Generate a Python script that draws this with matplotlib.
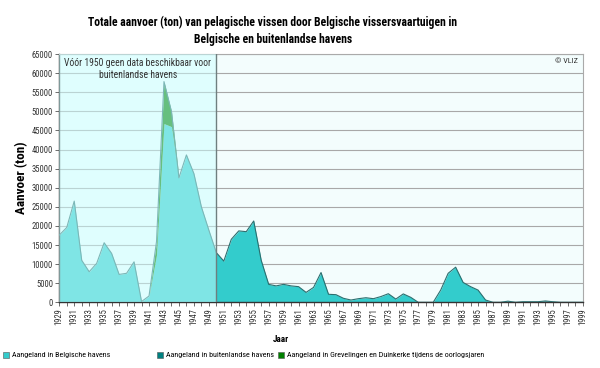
import matplotlib
matplotlib.use("Agg")
import matplotlib.pyplot as plt
from matplotlib.patches import Rectangle
from matplotlib import font_manager
import numpy as np

years = list(range(1929, 2000))
belgian = [17600, 19600, 26500, 11000, 8000, 10200, 15600, 12800, 7300, 7600,
           10600, 200, 1650, 12400, 46800, 46000, 32600, 38600, 33700, 25000,
           18900, 13000, 10800, 16500, 18700, 18500, 21300, 11000, 4700, 4300,
           4700, 4300, 4100, 2600, 3900, 7800, 2100, 2000, 1050, 600,
           950, 1200, 950, 1500, 2250, 850, 2200, 1300, 0, 0,
           0, 3200, 7600, 9200, 5200, 4100, 3200, 600, 0, 0,
           300, 0, 0, 0, 0, 200, 0, 0, 0, 0, 0]
foreign = [0]*62 + [150, 150, 150, 150, 150, 0, 0, 0, 0]
oorlog = [0]*13 + [3500, 11000, 4000] + [0]*55

legend_labels = ["Aangeland in Belgische havens",
                 "Aangeland in buitenlandse havens",
                 "Aangeland in Grevelingen en Duinkerke tijdens de oorlogsjaren"]
colors = ["#33cccc", "#008080", "#008000"]

available = {f.name for f in font_manager.fontManager.ttflist}
FONT = "DejaVu Sans"
for cand in ["Liberation Sans Narrow", "DejaVu Sans Condensed", "Roboto Condensed",
             "Open Sans Condensed", "Noto Sans Condensed", "Liberation Sans"]:
    if cand in available:
        FONT = cand
        break
plt.rcParams["font.family"] = [FONT, "DejaVu Sans"]

fig = plt.figure(figsize=(6.0, 3.68), dpi=100)
renderer = fig.canvas.get_renderer()


def fit(t, target_px, attr="width"):
    bb = t.get_window_extent(renderer=renderer)
    cur = bb.width if attr == "width" else bb.height
    t.set_fontsize(t.get_fontsize() * target_px / cur)


ax = fig.add_axes([0.0988, 0.1785, 0.8725, 0.6745])
ax.set_facecolor("#f3fdfd")

x = np.array(years)
b = np.array(belgian)
f = np.array(foreign)
g = np.array(oorlog)

ax.fill_between(x, 0, b, color=colors[0], lw=0, zorder=2)
ax.fill_between(x, b, b + f, color=colors[1], lw=0, zorder=2)
ax.fill_between(x, b + f, b + f + g, color=colors[2], lw=0, zorder=2)
ax.plot(x, b + f + g, color="#2b6f6f", lw=0.8, zorder=3)

ax.add_patch(Rectangle((1929, 0), 21, 65000, facecolor="#ccffff", alpha=0.5,
                       edgecolor="none", zorder=4))
ax.axvline(1950, color="#6f7f7f", lw=1.0, zorder=5)

ax.set_xlim(1929, 1999)
ax.set_ylim(0, 65000)

probe = fig.text(0, 0, "65000", fontsize=10)
fit(probe, 21)
tick_fs = probe.get_fontsize()
probe.remove()

ax.set_yticks(range(0, 65001, 5000))
ax.set_yticklabels([str(v) for v in range(0, 65001, 5000)], fontsize=tick_fs, color="#333333")
ax.set_xticks(years)
ax.set_xticklabels([str(y) if y % 2 == 1 else "" for y in years], rotation=90,
                   fontsize=tick_fs, color="#333333")
ax.tick_params(axis="both", length=3, width=0.6, color="#555555", pad=1.5)
ax.grid(axis="y", color="#a8a8a8", lw=0.8, zorder=1)
ax.set_axisbelow(True)
for s in ["top", "right"]:
    ax.spines[s].set_color("#aaaaaa")
for s in ["left", "bottom"]:
    ax.spines[s].set_color("#333333")
    ax.spines[s].set_linewidth(1.0)

note = ax.text(1939.5, 64000, "Vóór 1950 geen data beschikbaar voor\nbuitenlandse havens",
               ha="center", va="top", fontsize=10, color="#333333", zorder=6, linespacing=1.3)
fit(note, 146)
vliz = ax.text(1998.3, 64000, "© VLIZ", ha="right", va="top", fontsize=10, color="#333333", zorder=6)
fit(vliz, 23)

title = fig.text(273/600, 1 - 31/368,
                 "Totale aanvoer (ton) van pelagische vissen door Belgische vissersvaartuigen in\nBelgische en buitenlandse havens",
                 ha="center", va="center", fontsize=10, fontweight="bold", linespacing=1.45)
fit(title, 371)
ylab = fig.text(22/600, 1 - 178/368, "Aanvoer (ton)", rotation=90, ha="center", va="center",
                fontsize=10, fontweight="bold")
fit(ylab, 72, "height")
jaar = fig.text(281/600, 1 - 339/368, "Jaar", ha="center", va="center", fontsize=10, fontweight="bold")
fit(jaar, 16)

probe = fig.text(0, 0, legend_labels[1], fontsize=10)
fit(probe, 108)
leg_fs = probe.get_fontsize()
probe.remove()

leg_x = [3, 157, 278]
for lx, lab, c in zip(leg_x, legend_labels, colors):
    fig.patches.append(Rectangle((lx/600, 1 - 358/368), 6/600, 6/368, facecolor=c,
                                 edgecolor="#555555", lw=0.4, transform=fig.transFigure))
    fig.text((lx + 9)/600, 1 - 355/368, lab, ha="left", va="center", fontsize=leg_fs)

fig.savefig("out.png", dpi=100)
